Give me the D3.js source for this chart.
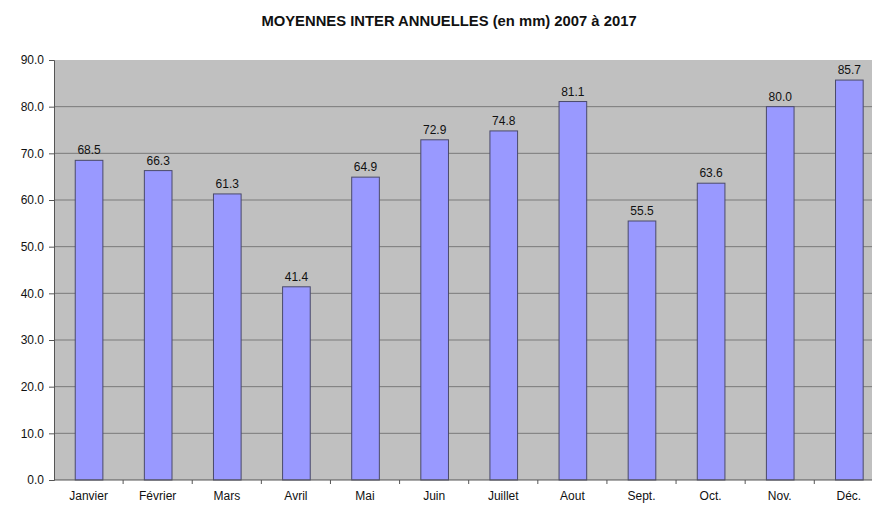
<!DOCTYPE html>
<html><head><meta charset="utf-8">
<script src="https://cdn.jsdelivr.net/npm/d3@7"></script>
<style>body{margin:0;background:#fff}svg{display:block;font-family:"Liberation Sans",Arial,sans-serif}</style>
</head><body><svg id="c" width="872" height="506"></svg>
<script>
const categories = ["Janvier","Février","Mars","Avril","Mai","Juin","Juillet","Aout","Sept.","Oct.","Nov.","Déc."];
const values = [68.5,66.3,61.3,41.4,64.9,72.9,74.8,81.1,55.5,63.6,80.0,85.7];
const yTicks = [0,10,20,30,40,50,60,70,80,90];
const title = "MOYENNES INTER ANNUELLES (en mm) 2007 à 2017";

(function () {
const svg = d3.select("#c");
const pLeft = 54, pRight = 883.4, pTop = 60, pBottom = 480;
const x = d3.scaleBand().domain(categories).range([pLeft, pRight]).paddingInner(0.6).paddingOuter(0.3);
const y = d3.scaleLinear().domain([0, 90]).range([pBottom, pTop]);

svg.append("text").attr("x", 449).attr("y", 26).attr("text-anchor", "middle")
  .attr("font-size", 14.8).attr("font-weight", "bold").attr("fill", "#111").text(title);

svg.append("rect").attr("x", pLeft).attr("y", pTop).attr("width", pRight - pLeft).attr("height", pBottom - pTop)
  .attr("fill", "#c0c0c0");

// gridlines
svg.append("g").selectAll("line").data(yTicks.filter(d => d > 0 && d < 90)).join("line")
  .attr("x1", pLeft).attr("x2", pRight).attr("y1", d => y(d)).attr("y2", d => y(d))
  .attr("stroke", "#7a7a7a").attr("stroke-width", 1);

// bars
svg.append("g").selectAll("rect").data(values).join("rect")
  .attr("x", (d, i) => x(categories[i]) + 0.5).attr("y", d => y(d))
  .attr("width", x.bandwidth()).attr("height", d => pBottom - y(d))
  .attr("fill", "#9999ff").attr("stroke", "#4a4a6a").attr("stroke-width", 1);

// value labels
svg.append("g").selectAll("text").data(values).join("text")
  .attr("x", (d, i) => x(categories[i]) + x.bandwidth() / 2 + 0.5).attr("y", d => y(d) - 6)
  .attr("text-anchor", "middle").attr("font-size", 12).attr("fill", "#111")
  .text(d => d.toFixed(1));

// y axis
const yAxis = d3.axisLeft(y).tickValues(yTicks).tickFormat(d => d.toFixed(1)).tickSize(5).tickPadding(5);
const gy = svg.append("g").attr("transform", `translate(${pLeft},0)`).call(yAxis);
gy.select(".domain").attr("stroke", "#555");
gy.selectAll(".tick line").attr("stroke", "#555");
gy.selectAll(".tick text").attr("font-size", 12).attr("fill", "#111").attr("font-family", "Liberation Sans, Arial, sans-serif");

// x axis
const step = x.step();
const xAxis = d3.axisBottom(x).tickSize(0).tickPadding(11);
const gx = svg.append("g").attr("transform", `translate(0,${pBottom})`).call(xAxis);
gx.select(".domain").remove();
gx.selectAll(".tick text").attr("font-size", 12).attr("fill", "#111").attr("font-family", "Liberation Sans, Arial, sans-serif");
svg.append("line").attr("x1", pLeft).attr("x2", pRight).attr("y1", pBottom).attr("y2", pBottom).attr("stroke", "#555");
svg.append("g").selectAll("line").data(categories.slice(1)).join("line")
  .attr("x1", d => x(d) - step * 0.3).attr("x2", d => x(d) - step * 0.3)
  .attr("y1", pBottom).attr("y2", pBottom + 4).attr("stroke", "#555");
})();
</script></body></html>
